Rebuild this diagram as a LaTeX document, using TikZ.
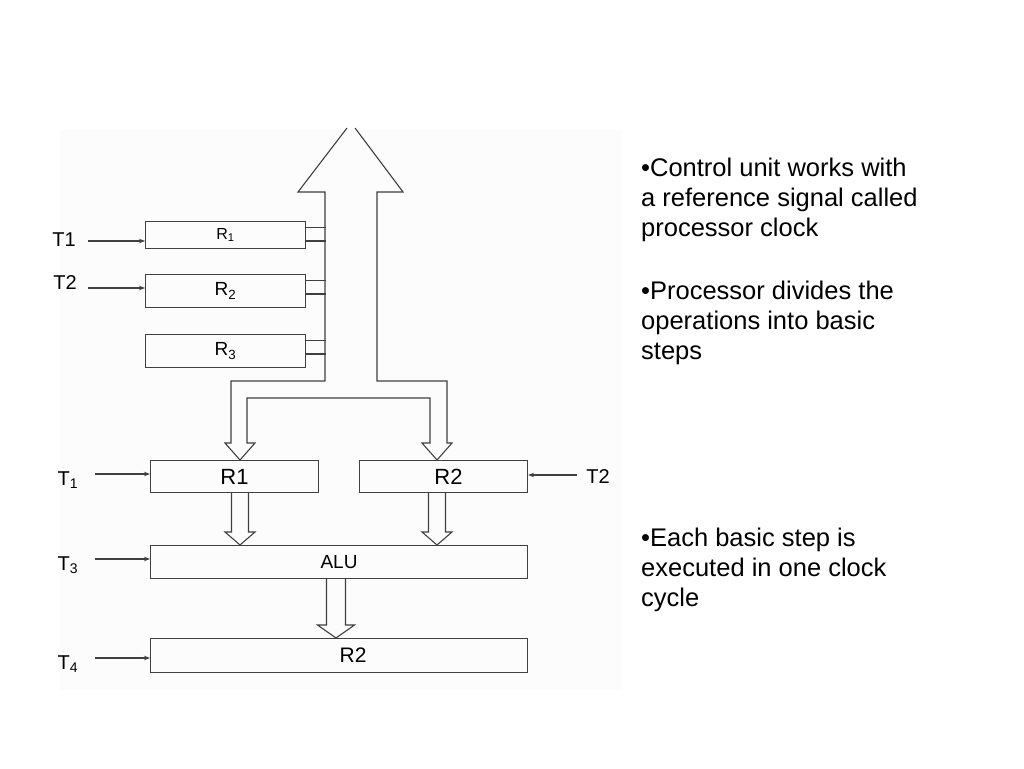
\documentclass[tikz,border=0pt]{standalone}
\usepackage{fontspec}
\setmainfont{Liberation Sans}
\usetikzlibrary{arrows.meta,calc}

\tikzset{
  wire/.style={draw=black!75, line width=1.1pt},
  regbox/.style={wire, rectangle, anchor=north west, inner sep=0pt},
  tlab/.style={inner sep=0pt, font=\fontsize{20}{22}\selectfont},
  sig/.style={wire, -{Stealth[length=6pt,width=4.5pt]}},
  bus/.style={wire, line join=miter},
  note/.style={anchor=north west, align=left, inner sep=0pt, font=\fontsize{25.5}{30}\selectfont},
}

% hollow arrow from the bottom of #1 to the top of #2, centred on x=#3
\newcommand{\blockdown}[5]{%
  \coordinate (bx) at (#3,0);
  \coordinate (bs) at (#1.south -| bx);
  \coordinate (bt) at (#2.north -| bx);
  \draw[bus] ($(bs)+(-#4,0)$) -- ($(bt)+(-#4,-13)$) -- ($(bt)+(-#5,-13)$) -- (bt)
    -- ($(bt)+(#5,-13)$) -- ($(bt)+(#4,-13)$) -- ($(bs)+(#4,0)$);
}

\begin{document}
\begin{tikzpicture}[x=1pt,y=-1pt]
  \useasboundingbox (0,0) rectangle (1024,768);
  \fill[black!1] (60,130) rectangle (622,690);

  % registers feeding the bus
  \node[regbox, minimum width=160pt, minimum height=27pt] (ra) at (145,221) {\fontsize{16}{18}\selectfont R\textsubscript{1}};
  \node[regbox, minimum width=160pt, minimum height=33pt] (rb) at (145,274) {\fontsize{19}{21}\selectfont R\textsubscript{2}};
  \node[regbox, minimum width=160pt, minimum height=33pt] (rc) at (145,334) {\fontsize{19}{21}\selectfont R\textsubscript{3}};

  % stubs to the bus
  \foreach \b in {ra,rb,rc} {
    \draw[wire] ([yshift=-6.5pt]\b.north east) -- +(20,0);
    \draw[wire] ([yshift=-20pt]\b.north east) -- +(20,0);
  }

  % the bus, as one hollow arrow
  \draw[bus] (347,128) -- (298,192) -- (325,192) -- (325,381) -- (231,381)
    -- (231,443) -- (225,443) -- (240,460) -- (255,443) -- (247,443)
    -- (247,398) -- (430,398) -- (430,443) -- (422,443) -- (437,460)
    -- (452,443) -- (447,443) -- (447,381) -- (377,381) -- (377,192)
    -- (403,192) -- (355,128);

  % registers and ALU
  \node[regbox, minimum width=168pt, minimum height=32pt] (m1) at (150,460) {\fontsize{22}{24}\selectfont R1};
  \node[regbox, minimum width=168pt, minimum height=32pt] (m2) at (359,460) {\fontsize{22}{24}\selectfont\hspace*{10pt}R2};
  \node[regbox, minimum width=377pt, minimum height=33pt] (alu) at (150,545) {\fontsize{19}{21}\selectfont ALU};
  \node[regbox, minimum width=377pt, minimum height=34pt] (out) at (150,638) {\fontsize{21}{23}\selectfont\hspace*{28pt}R2};

  \blockdown{m1}{alu}{240}{8.5}{15}
  \blockdown{m2}{alu}{437}{8.5}{15}
  \blockdown{alu}{out}{336}{9.5}{18.5}

  % timing signals
  \node[tlab] (t1) at (64,240) {T1};
  \node[tlab] (t2) at (65,283) {T2};
  \node[tlab] (t1b) at (68,480) {T\textsubscript{1}};
  \node[tlab] (t3) at (68,565) {T\textsubscript{3}};
  \node[tlab] (t4) at (68,664) {T\textsubscript{4}};
  \node[tlab] (t2b) at (598,477) {T2};

  \coordinate (s1) at (88,241);
  \coordinate (s2) at (88,288);
  \coordinate (s1b) at (95,474);
  \coordinate (s3) at (95,559);
  \coordinate (s4) at (95,658);
  \coordinate (s2b) at (577,475);

  \draw[sig] (s1) -- (s1 -| ra.west);
  \draw[sig] (s2) -- (s2 -| rb.west);
  \draw[sig] (s1b) -- (s1b -| m1.west);
  \draw[sig] (s3) -- (s3 -| alu.west);
  \draw[sig] (s4) -- (s4 -| out.west);
  \draw[sig] (s2b) -- (s2b -| m2.east);

  % notes
  \node[note] (n1) at (641,158) {•Control unit works with\\a reference signal called\\processor clock};
  \node[note] (n2) at (641,281) {•Processor divides the\\operations into basic\\steps};
  \node[note] (n3) at (641,528) {•Each basic step is\\executed in one clock\\cycle};
\end{tikzpicture}
\end{document}
